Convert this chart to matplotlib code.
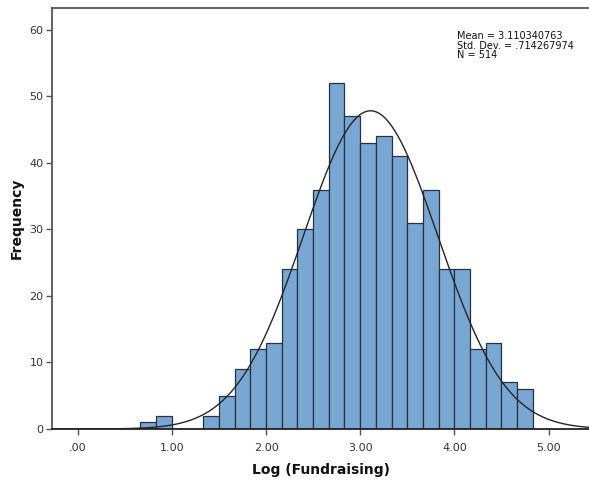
import numpy as np
import matplotlib

matplotlib.use("Agg")
import matplotlib.pyplot as plt

# Histogram data (bin width 1/6, starting at 0.667)
bin_start = 2 / 3
bin_width = 1 / 6
counts = [1, 2, 0, 0, 2, 5, 9, 12, 13, 24, 30, 36, 52, 47, 43, 44, 41, 31,
          36, 24, 24, 12, 13, 7, 6]
mean = 3.110340763
std = 0.714267974
n = 514
x_ticks = [0, 1, 2, 3, 4, 5]
x_ticklabels = [".00", "1.00", "2.00", "3.00", "4.00", "5.00"]
y_ticks = [0, 10, 20, 30, 40, 50, 60]

BAR_COLOR = "#79a7d3"
EDGE_COLOR = "#27323d"
AXIS_COLOR = "#555555"

fig = plt.figure(figsize=(5.89, 4.83), dpi=100, facecolor="white")
ax = fig.add_axes([0.0883, 0.1118, 0.9117, 0.8716])

edges = bin_start + bin_width * np.arange(len(counts))
ax.bar(edges, counts, width=bin_width, align="edge", color=BAR_COLOR,
       edgecolor=EDGE_COLOR, linewidth=0.9, zorder=2)

# Normal curve scaled to counts
xs = np.linspace(-0.27, 5.43, 600)
ys = n * bin_width * np.exp(-0.5 * ((xs - mean) / std) ** 2) / (std * np.sqrt(2 * np.pi))
ax.plot(xs, ys, color="#262626", linewidth=1.0, zorder=3)

ax.set_xlim(-0.273, 5.43)
ax.set_ylim(0, 63.3)
ax.set_xticks(x_ticks)
ax.set_xticklabels(x_ticklabels)
ax.set_yticks(y_ticks)

for side in ["left", "bottom", "top"]:
    ax.spines[side].set_color(AXIS_COLOR)
    ax.spines[side].set_linewidth(1.3)
ax.spines["bottom"].set_color("#222222")
ax.spines["right"].set_visible(False)
ax.tick_params(axis="both", direction="out", length=4, width=1,
               colors=AXIS_COLOR, labelsize=8, labelcolor="#333333", pad=2)
ax.tick_params(axis="x", pad=6)

ax.set_xlabel("Log (Fundraising)", fontsize=10, fontweight="bold",
              color="#111111", labelpad=7)
ax.set_ylabel("Frequency", fontsize=10, fontweight="bold",
              color="#111111", labelpad=4)

ax.text(457, 452, f"Mean = {mean:.9f}\nStd. Dev. = {str(std)[1:]}\nN = {n}",
        transform=None, fontsize=7, va="top", ha="left",
        color="#111111", linespacing=0.95)

fig.savefig("out.png", dpi=100, facecolor="white")
